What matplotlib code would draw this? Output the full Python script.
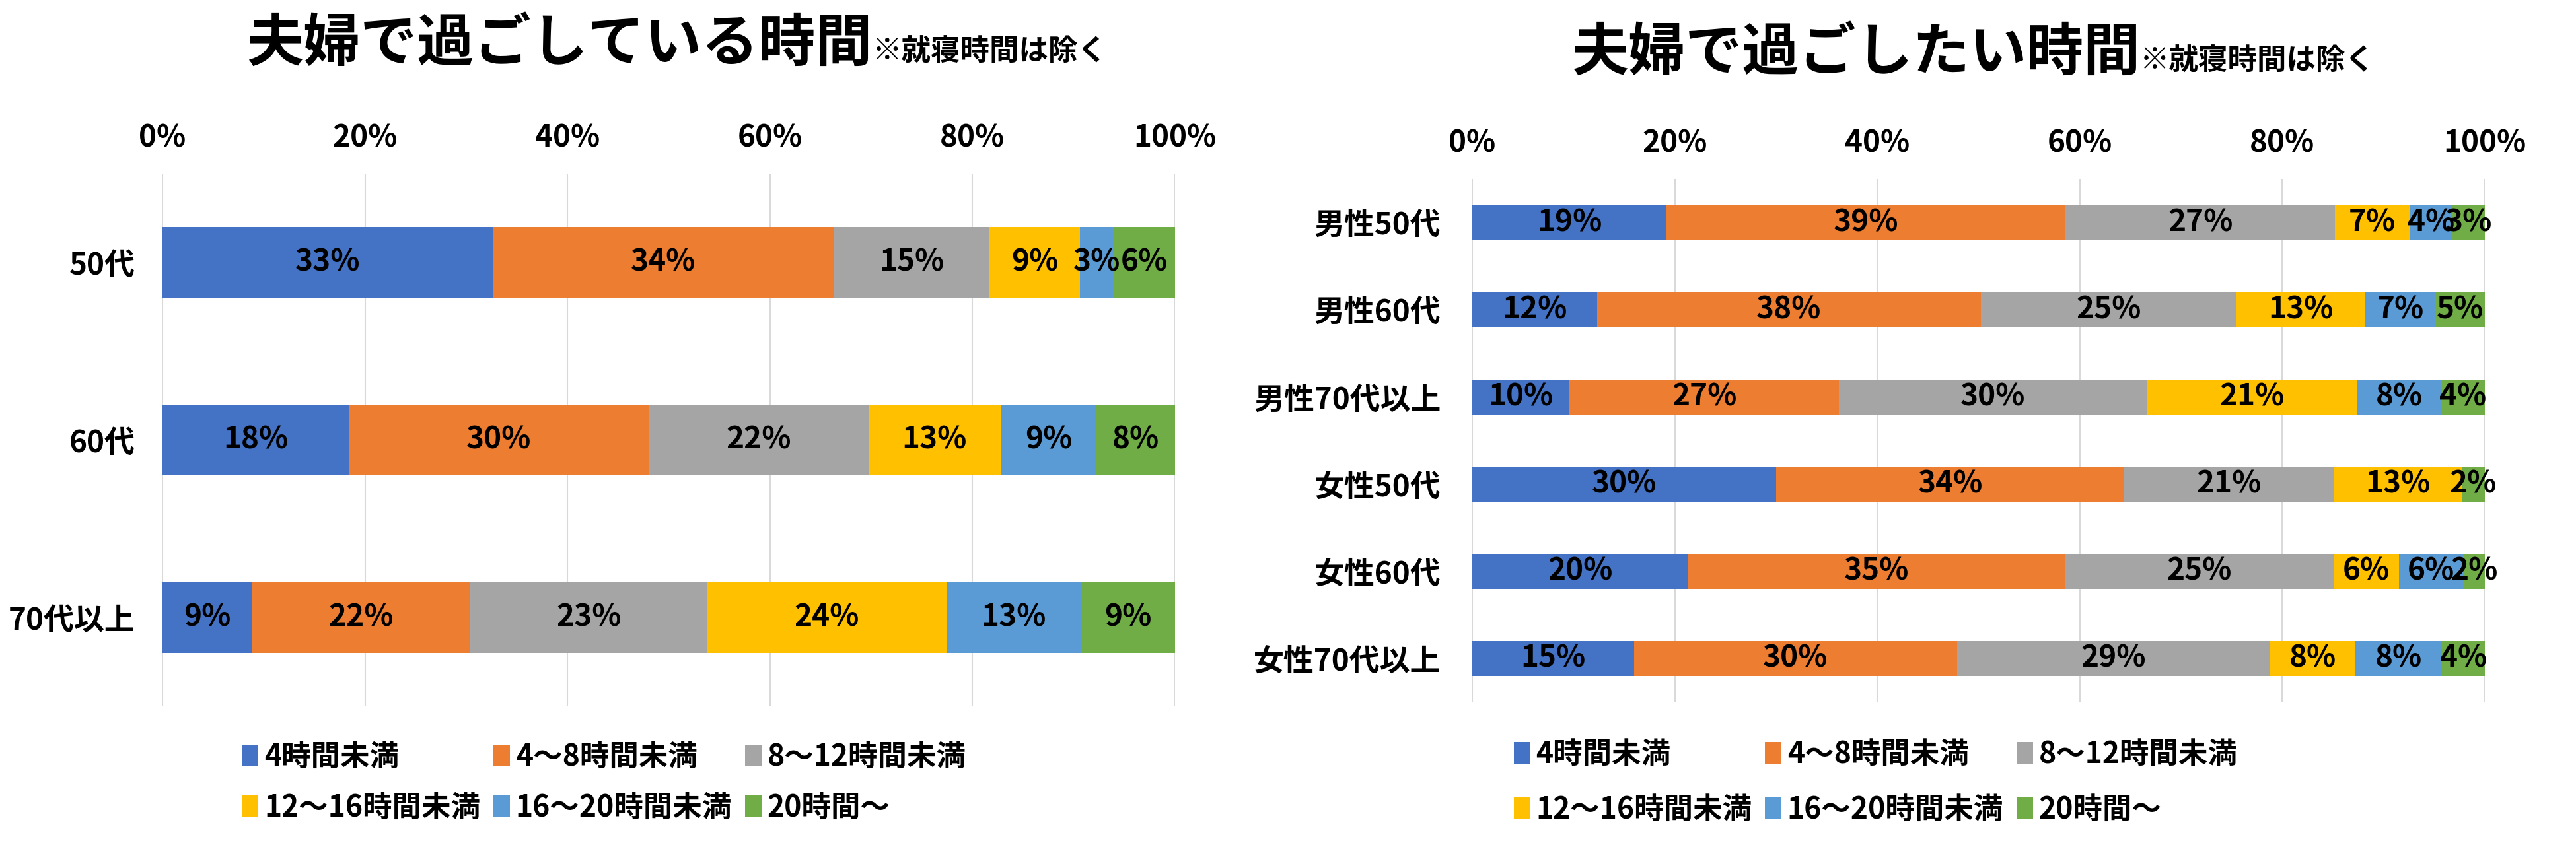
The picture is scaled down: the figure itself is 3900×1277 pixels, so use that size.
import matplotlib
matplotlib.use("Agg")
import matplotlib.pyplot as plt
import numpy as np

plt.rcParams['font.family'] = ['Noto Sans CJK JP', 'DejaVu Sans']
plt.rcParams['font.weight'] = 'bold'

W, H = 3900, 1277

series_labels = ['4時間未満', '4～8時間未満', '8～12時間未満',
                 '12～16時間未満', '16～20時間未満', '20時間～']
colors = ['#4472C4', '#ED7D31', '#A5A5A5', '#FFC000', '#5B9BD5', '#70AD47']

# left chart: 夫婦で過ごしている時間
left_categories = ['50代', '60代', '70代以上']
left_50s = [32.6, 33.7, 15.4, 8.9, 3.3, 6.1]
left_60s = [18.4, 29.6, 21.7, 13.1, 9.4, 7.8]
left_70s = [8.8, 21.6, 23.4, 23.6, 13.3, 9.3]

# right chart: 夫婦で過ごしたい時間
right_categories = ['男性50代', '男性60代', '男性70代以上', '女性50代', '女性60代', '女性70代以上']
m_50s = [19.2, 39.4, 26.6, 7.4, 4.2, 3.2]
m_60s = [12.3, 37.9, 25.3, 12.7, 6.9, 4.9]
m_70s = [9.6, 26.6, 30.4, 20.8, 8.3, 4.3]
f_50s = [30, 34.4, 20.7, 12.6, 0, 2.3]
f_60s = [20, 35, 25, 6, 6, 2]
f_70s = [15, 30, 29, 8, 8, 4]

x_ticks = [0, 20, 40, 60, 80, 100]

fig = plt.figure(figsize=(W / 100, H / 100), dpi=100)


def px_rect(x0, x1, y0, y1):
    return [x0 / W, 1 - y1 / H, (x1 - x0) / W, (y1 - y0) / H]


def draw(ax, cats, rows, ypad):
    data = np.array(rows, dtype=float)
    shares = data / data.sum(axis=1, keepdims=True) * 100
    y = np.arange(len(cats))
    left = np.zeros(len(cats))
    handles = []
    for j in range(data.shape[1]):
        b = ax.barh(y, shares[:, j], left=left, height=0.4, color=colors[j],
                    label=series_labels[j], zorder=3)
        handles.append(b)
        for i in range(len(cats)):
            if data[i, j] > 0:
                ax.text(left[i] + shares[i, j] / 2, y[i], f"{data[i, j]:.0f}%",
                        ha='center', va='center', fontsize=33, color='black',
                        zorder=4)
        left += shares[:, j]
    ax.set_xlim(0, 100)
    ax.set_ylim(len(cats) - 0.5, -0.5)
    ax.set_yticks(y)
    ax.set_yticklabels(cats, fontsize=33)
    ax.xaxis.tick_top()
    ax.set_xticks(x_ticks)
    ax.set_xticklabels([f"{t}%" for t in x_ticks], fontsize=33)
    ax.tick_params(axis='x', length=0, pad=22)
    ax.tick_params(axis='y', length=0, pad=ypad)
    ax.grid(axis='x', color='#D9D9D9', linewidth=1.5, zorder=0)
    ax.set_axisbelow(True)
    for s in ax.spines.values():
        s.set_visible(False)
    return handles


axL = fig.add_axes(px_rect(246, 1779, 263, 1070))
hL = draw(axL, left_categories, [left_50s, left_60s, left_70s], 30)

axR = fig.add_axes(px_rect(2229, 3762, 271, 1064))
hR = draw(axR, right_categories, [m_50s, m_60s, m_70s, f_50s, f_60s, f_70s], 34)

order = [0, 3, 1, 4, 2, 5]


def legend(ax, handles, x, y, spacing):
    fig.legend([handles[k] for k in order], [series_labels[k] for k in order],
               ncol=3, loc='upper left', bbox_to_anchor=(x / W, 1 - y / H),
               bbox_transform=fig.transFigure, frameon=False, fontsize=32,
               handlelength=0.55, handleheight=0.75, handletextpad=0.2,
               columnspacing=0.45, labelspacing=spacing, borderpad=0,
               borderaxespad=0)


legend(axL, hL, 367, 1124, 0.69)
legend(axR, hR, 2292, 1120, 0.85)

# titles
def title(x, ybase, main, sub):
    t = fig.text(x / W, 1 - ybase / H, main, fontsize=62, fontweight='bold',
                 ha='left', va='baseline')
    fig.canvas.draw()
    bb = t.get_window_extent(fig.canvas.get_renderer())
    fig.text(bb.x1 / W, 1 - ybase / H, sub, fontsize=32, fontweight='bold',
             ha='left', va='baseline')


title(373, 92, '夫婦で過ごしている時間', '※就寝時間は除く')
title(2379, 106, '夫婦で過ごしたい時間', '※就寝時間は除く')

fig.savefig('out.png', dpi=100, facecolor='white')
